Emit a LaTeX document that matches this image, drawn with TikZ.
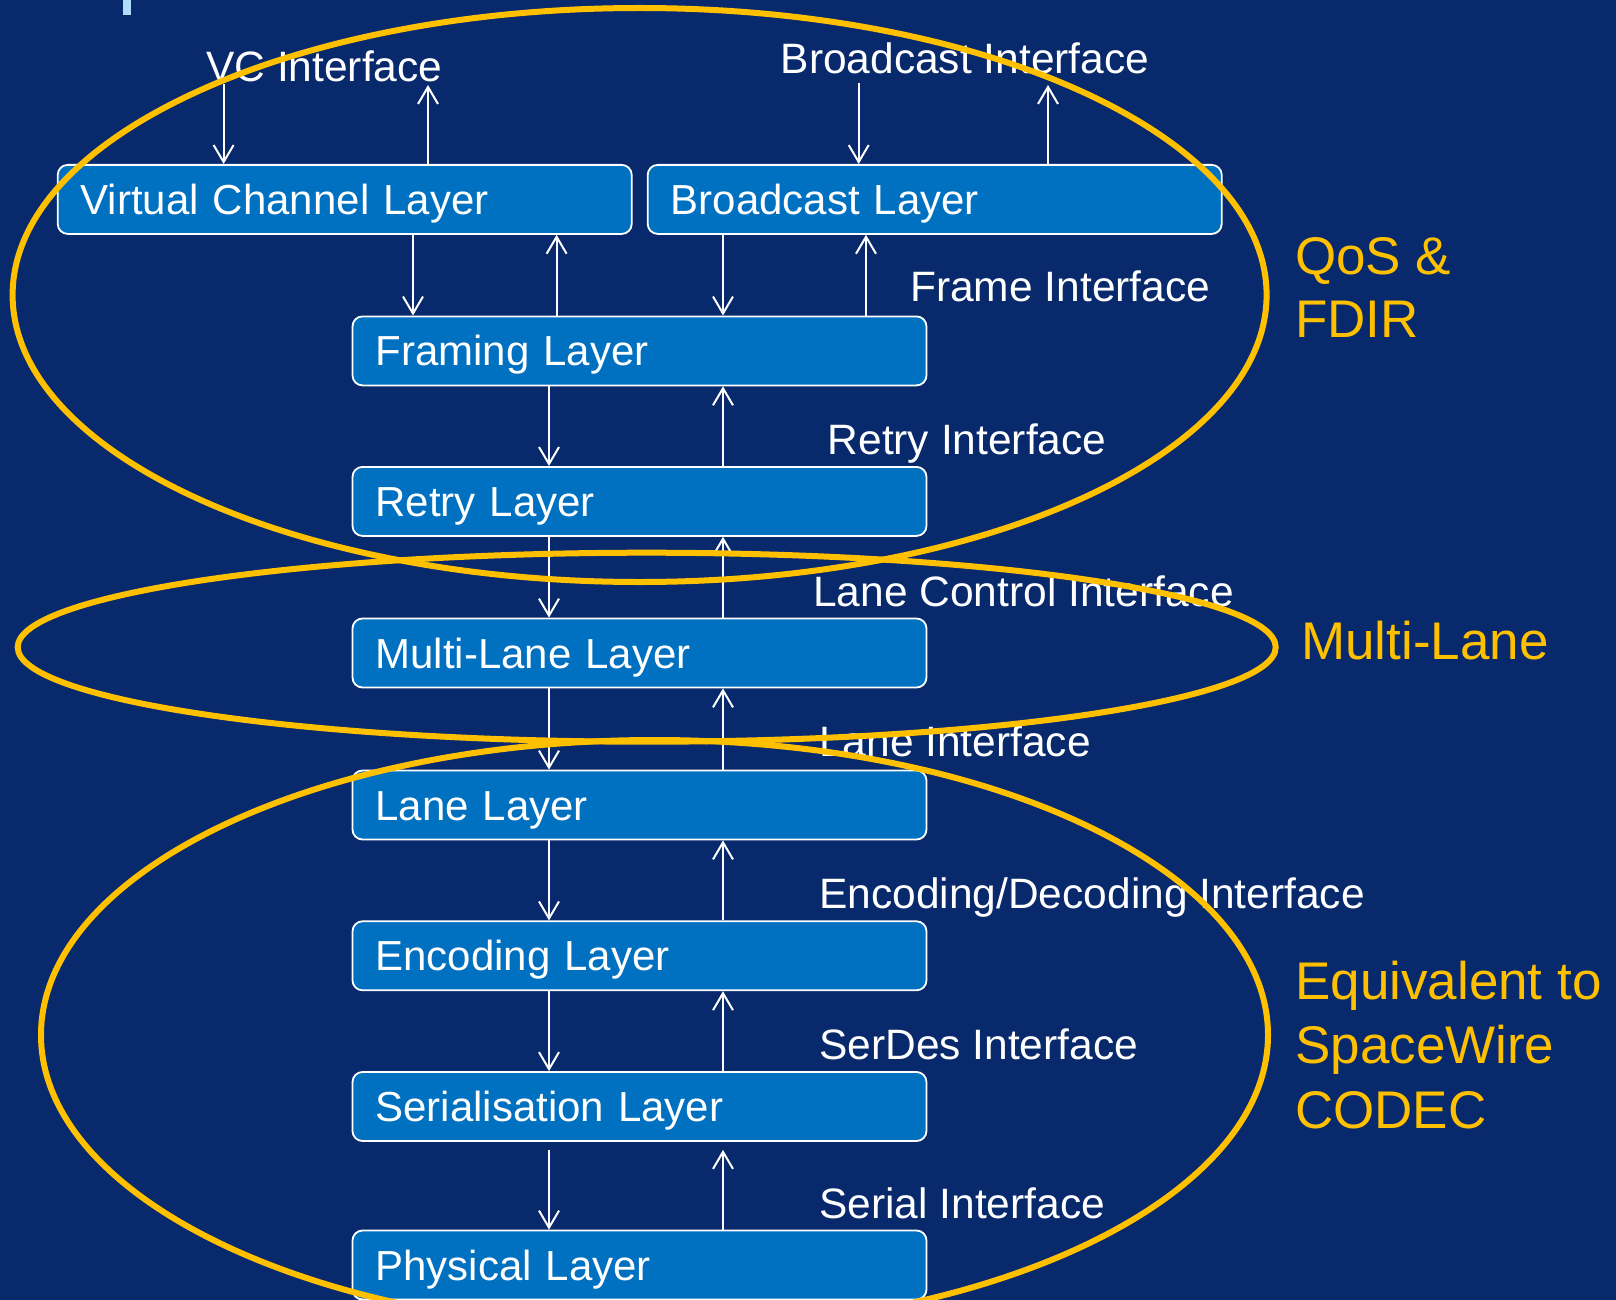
\documentclass[tikz,border=0pt]{standalone}
\usepackage{fontspec}
\setmainfont{Liberation Sans}
\usetikzlibrary{arrows.meta,calc}
\definecolor{navy}{RGB}{8,42,108}
\definecolor{layerblue}{RGB}{0,112,192}
\definecolor{gold}{RGB}{255,192,0}
\definecolor{markblue}{RGB}{176,222,250}
\begin{document}
\begin{tikzpicture}[x=1pt,y=-1pt,
  layer/.style={draw=white, line width=1.8pt, fill=layerblue, rounded corners=10pt,
    text=white, font=\fontsize{42}{50}\selectfont, text width=528pt, align=left,
    inner xsep=23pt, inner ysep=0pt, text height=30pt, text depth=0pt, minimum height=69pt},
  lbl/.style={anchor=base west, inner sep=0pt, text=white, font=\fontsize{42.5}{50}\selectfont},
  grp/.style={anchor=base west, inner sep=0pt, text=gold, font=\fontsize{53}{64}\selectfont},
  flow/.style={draw=white, line width=2pt, -{Straight Barb[length=17pt,width=20pt]}},
  ring/.style={draw=gold, line width=6pt}]
% page and background
\useasboundingbox (0,0) rectangle (1616,1300);
\clip (0,0) rectangle (1616,1300);
\fill[navy] (0,0) rectangle (1616,1300);
\fill[markblue] (123,0) rectangle (130.5,15);

% layer stack
\node[layer] (vc)    at (344.7,199.4) {Virtual Channel Layer};
\node[layer] (bc)    at (934.7,199.4) {Broadcast Layer};
\node[layer] (frm)   at (639.5,350.9) {Framing Layer};
\node[layer] (rty)   at (639.5,501.4) {Retry Layer};
\node[layer] (mln)   at (639.5,653.0) {Multi-Lane Layer};
\node[layer] (lane)  at (639.5,805.0) {Lane Layer};
\node[layer] (enc)   at (639.5,955.8) {Encoding Layer};
\node[layer] (ser)   at (639.5,1106.5) {Serialisation Layer};
\node[layer] (phys)  at (639.5,1265.0) {Physical Layer};

% interface labels
\node[lbl] (vcif) at (206,82)     {VC Interface};
\node[lbl] (bcif) at (780.5,74)   {Broadcast Interface};
\node[lbl] (frif) at (910,301.5)  {Frame Interface};
\node[lbl] (rtif) at (827.5,454.5){Retry Interface};
\node[lbl] (lcif) at (813,606)    {Lane Control Interface};
\node[lbl] (lnif) at (819,756.5)  {Lane Interface};
\node[lbl] (edif) at (819,908)    {Encoding/Decoding Interface};
\node[lbl] (sdif) at (819,1059.3) {SerDes Interface};
\node[lbl] (srif) at (819,1218.3) {Serial Interface};

% arrow columns
\coordinate (vcin)  at (223.6,84.5);
\coordinate (vcout) at (428,85);
\coordinate (bcin)  at (858.7,83);
\coordinate (bcout) at (1048,85);
\coordinate (vfd) at (413,0);
\coordinate (vfu) at (556.6,0);
\coordinate (bfu) at (866,0);
\coordinate (cd)  at (549,0);
\coordinate (cu)  at (723,0);

\draw[flow] (vcin) -- (vc.north -| vcin);
\draw[flow] (vc.north -| vcout) -- (vcout);
\draw[flow] (bcin) -- (bc.north -| bcin);
\draw[flow] (bc.north -| bcout) -- (bcout);

\draw[flow] (vc.south -| vfd) -- (frm.north -| vfd);
\draw[flow] (frm.north -| vfu) -- (vc.south -| vfu);
\draw[flow] (bc.south -| cu) -- (frm.north -| cu);
\draw[flow] (frm.north -| bfu) -- (bc.south -| bfu);

\foreach \upper/\lower in {frm/rty, rty/mln, mln/lane, lane/enc, enc/ser} {
  \draw[flow] (\upper.south -| cd) -- (\lower.north -| cd);
  \draw[flow] (\lower.north -| cu) -- (\upper.south -| cu);
}
\draw[flow, shorten <=8pt] (ser.south -| cd) -- (phys.north -| cd);
\draw[flow, shorten >=8pt] (phys.north -| cu) -- (ser.south -| cu);

% grouping rings
\draw[ring] (639.6,295) ellipse [x radius=627, y radius=287];
\draw[ring] (646.7,647.2) ellipse [x radius=629, y radius=94.5];
\draw[ring] (654.5,1035) ellipse [x radius=613.5, y radius=295];

% group captions
\node[grp] (qos1) at (1295,274)  {QoS \&};
\node[grp] (qos2) at (1295,337)  {FDIR};
\node[grp] (mlg)  at (1301,659)  {Multi-Lane};
\node[grp] (eq1)  at (1295,999)  {Equivalent to};
\node[grp] (eq2)  at (1295,1063) {SpaceWire};
\node[grp] (eq3)  at (1295,1128) {CODEC};
\end{tikzpicture}
\end{document}
